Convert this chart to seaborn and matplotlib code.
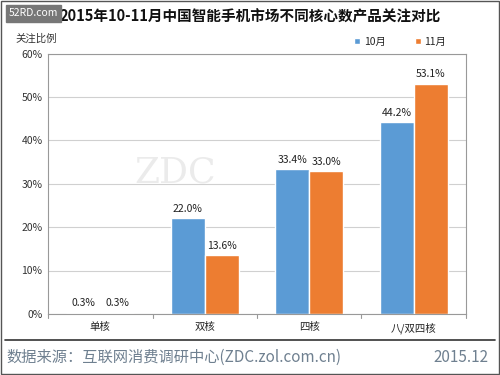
import matplotlib
matplotlib.use("Agg")
import matplotlib.pyplot as plt
import seaborn as sns
import pandas as pd
from matplotlib.lines import Line2D
from matplotlib.patches import Rectangle

categories = ["单核", "双核", "四核", "八/双四核"]
series_names = ["10月", "11月"]
oct_values = [0.3, 22.0, 33.4, 44.2]
nov_values = [0.3, 13.6, 33.0, 53.1]
y_ticks = [0, 10, 20, 30, 40, 50, 60]

sns.set_theme(style="white")
plt.rcParams['font.family'] = ['Noto Sans CJK SC', 'DejaVu Sans']

df = pd.DataFrame({
    "category": categories * 2,
    "month": [series_names[0]] * 4 + [series_names[1]] * 4,
    "value": oct_values + nov_values,
})

blue = "#5B9BD5"
orange = "#ED7D31"

fig = plt.figure(figsize=(5, 3.75), dpi=100)
ax = fig.add_axes([0.096, 0.163, 0.836, 0.694])

# faint watermark behind bars
ax.text(0.72, 32.5, "ZDC", ha="center", va="center", fontsize=26, color="#ebebeb",
        family="DejaVu Serif", zorder=0.5)

sns.barplot(data=df, x="category", y="value", hue="month",
            palette=[blue, orange], width=0.65, gap=0, saturation=1,
            ax=ax, legend=False, zorder=2)

ax.set_ylim(0, 60)
ax.set_yticks(y_ticks)
ax.set_yticklabels([f"{v}%" for v in y_ticks], fontsize=7.5, color="#333333")
ax.set_xlim(-0.5, 3.5)
ax.tick_params(axis="x", labelsize=7.5, colors="#222222", length=0, pad=6)
ax.tick_params(axis="y", length=0, pad=4)
ax.set_xlabel("")
ax.set_ylabel("")
ax.yaxis.grid(True, color="#d0d0d0", linewidth=0.8)
ax.set_axisbelow(True)
for s in ax.spines.values():
    s.set_color("#999999")
    s.set_linewidth(0.8)

# category separator ticks
for xb in [-0.5, 0.5, 1.5, 2.5, 3.5]:
    ax.plot([xb, xb], [0, -0.9], color="#999999", lw=0.8, clip_on=False)

for cont in ax.containers:
    ax.bar_label(cont, labels=[f"{v.get_height():.1f}%" for v in cont],
                 fontsize=7.5, color="#222222", padding=3)

# legend
handles = [Line2D([0], [0], marker="s", color="w", markerfacecolor=c,
                  markersize=5, linestyle="") for c in (blue, orange)]
fig.legend(handles, series_names, loc="center", bbox_to_anchor=(0.798, 0.888),
           ncol=2, frameon=False, fontsize=7.5, handletextpad=0.1,
           handlelength=1.0, columnspacing=2.6)

# texts
fig.text(0.5, 0.955, "2015年10-11月中国智能手机市场不同核心数产品关注对比",
         ha="center", va="center", fontsize=10.5, fontweight="bold", color="#111111")
fig.text(0.073, 0.898, "关注比例", ha="center", va="center", fontsize=7.5, color="#333333")
fig.text(0.012, 0.048, "数据来源：互联网消费调研中心(ZDC.zol.com.cn)",
         ha="left", va="center", fontsize=11, color="#6f8090")
fig.text(0.976, 0.048, "2015.12", ha="right", va="center", fontsize=11, color="#6f8090")

# separator line and border
fig.add_artist(Line2D([0.01, 0.99], [0.093, 0.093], color="#333333", lw=1.2))
fig.add_artist(Rectangle((0.002, 0.002), 0.996, 0.996, fill=False,
                         edgecolor="#555555", lw=1, transform=fig.transFigure))

# 52RD badge
fig.add_artist(Rectangle((0.012, 0.941), 0.110, 0.046, color="#777777",
                         transform=fig.transFigure, zorder=5))
fig.text(0.067, 0.964, "52RD.com", ha="center", va="center", fontsize=7.5,
         color="white", zorder=6)

fig.savefig("out.png", dpi=100)
